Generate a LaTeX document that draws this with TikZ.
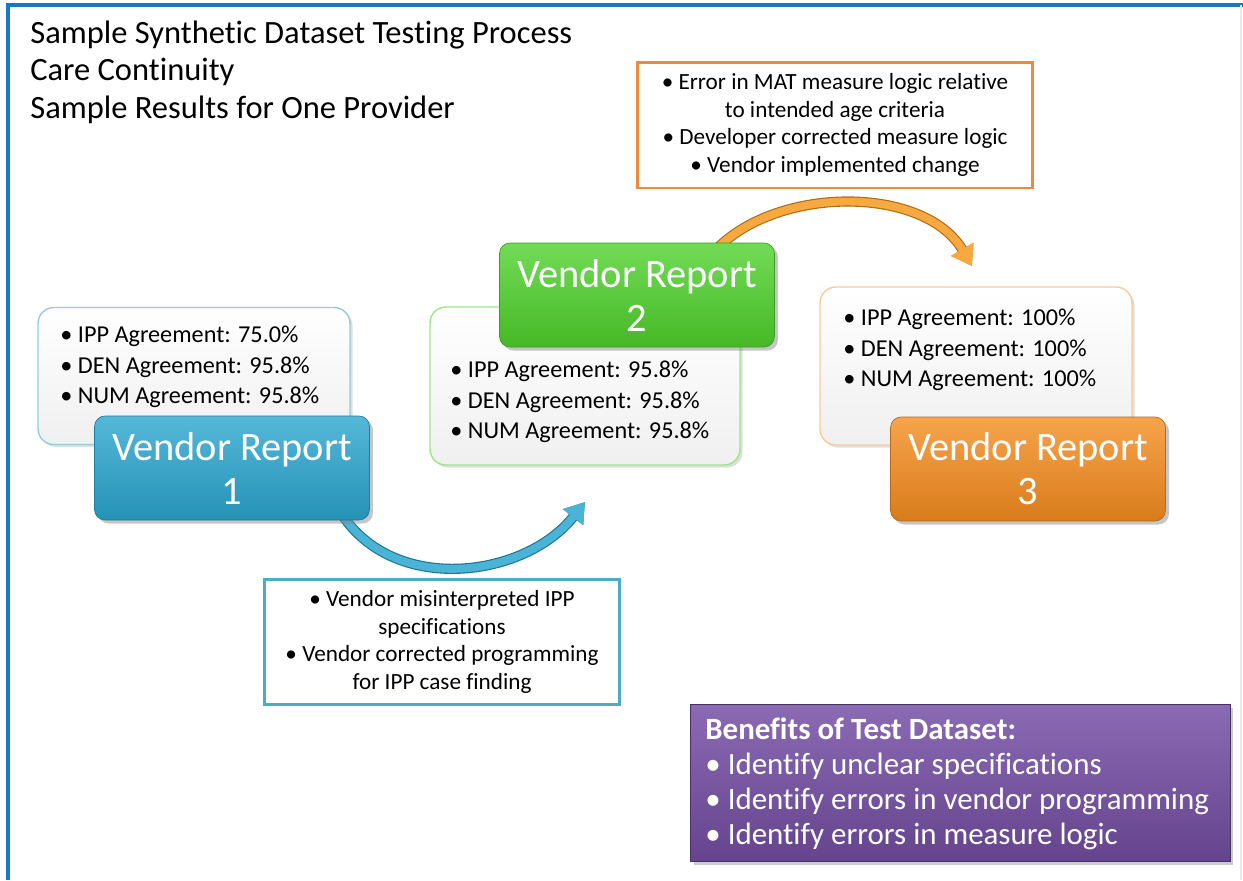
\documentclass[tikz,border=0pt]{standalone}
\usepackage{fontspec}
\setmainfont{Carlito}[Ligatures=NoCommon]
\usepackage{tikz}
\usetikzlibrary{arrows.meta}
\usetikzlibrary{backgrounds}
\usetikzlibrary{shadows,positioning}

\definecolor{frameblue}{HTML}{1A78C2}
\definecolor{vrblue}{HTML}{2AA6CF}
\definecolor{vrgreen}{HTML}{4FD22C}
\definecolor{vrorange}{HTML}{F58D1F}
\definecolor{notecyan}{HTML}{4BACC6}
\definecolor{noteorange}{HTML}{EE8A3C}
\definecolor{benpurple}{HTML}{7650A6}

\tikzset{
  agrbox/.style={draw=#1, line width=0.8pt, rounded corners=9pt,
    top color=white, bottom color=black!6,
    drop shadow={opacity=0.25,shadow xshift=1.5pt,shadow yshift=-1.5pt}},
  agrtext/.style={anchor=west, align=left, inner sep=0pt,
    font=\fontsize{13.8}{17.2}\selectfont},
  report/.style={rounded corners=6pt, text=white, align=center,
    font=\fontsize{23}{25}\selectfont, draw=#1!75!black,
    top color=#1!80!white, bottom color=#1!88!black,
    minimum width=5.5cm, minimum height=2.08cm,
    drop shadow={opacity=0.45,shadow xshift=2pt,shadow yshift=-2pt}},
  notebox/.style={draw=#1, line width=1.7pt, fill=white, align=center,
    font=\fontsize{13.2}{15.6}\selectfont},
  flowarrow/.style={line width=4.5pt, draw=#1!85!white,
    -{Triangle[length=11pt,width=14pt]},
    preaction={draw=#1!70!black, line width=5.8pt}}
}

\begin{document}
\begin{tikzpicture}[x=0.02cm,y=-0.02cm]

  \useasboundingbox (0,0) rectangle (1243,880);

  % frame
  \draw [frameblue, line width=2pt] (8,880) |- (1243,5);
  \draw [black!8, line width=1pt] (1241,5) -- (1241,880);

  % heading
  \node (title) [anchor=west, align=left, inner sep=0pt,
    font=\fontsize{18.5}{21.4}\selectfont] at (30,72)
    {Sample Synthetic Dataset Testing Process\\
     Care Continuity\\
     Sample Results for One Provider};

  % agreement boxes
  \node (agr1) [agrbox=notecyan!60, minimum width=6.24cm, minimum height=2.74cm] at (194,376) {};
  \node (agr2) [agrbox=vrgreen!55, minimum width=6.2cm, minimum height=3.16cm] at (585,386) {};
  \node (agr3) [agrbox=vrorange!45, minimum width=6.24cm, minimum height=3.16cm] at (976,366) {};

  \node (agr1txt) [agrtext] at (60,367)
    {\textbullet\ IPP Agreement: 75.0\%\\
     \textbullet\ DEN Agreement: 95.8\%\\
     \textbullet\ NUM Agreement: 95.8\%};
  \node (agr2txt) [agrtext] at (450,402)
    {\textbullet\ IPP Agreement: 95.8\%\\
     \textbullet\ DEN Agreement: 95.8\%\\
     \textbullet\ NUM Agreement: 95.8\%};
  \node (agr3txt) [agrtext] at (843,350)
    {\textbullet\ IPP Agreement: 100\%\\
     \textbullet\ DEN Agreement: 100\%\\
     \textbullet\ NUM Agreement: 100\%};

  % vendor reports
  \node (vr1) [report=vrblue] at (232,468) {Vendor Report\\1};
  \node (vr2) [report=vrgreen] at (637,295) {Vendor Report\\2};
  \node (vr3) [report=vrorange] at (1028,469) {Vendor Report\\3};

  % notes
  \node (note1) [notebox=notecyan, minimum width=7.1cm, minimum height=2.5cm] at (442,642)
    {\textbullet\ Vendor misinterpreted IPP\\
     specifications\\
     \textbullet\ Vendor corrected programming\\
     for IPP case finding};
  \node (note2) [notebox=noteorange, minimum width=7.92cm, minimum height=2.52cm] at (835,125)
    {\textbullet\ Error in MAT measure logic relative\\
     to intended age criteria\\
     \textbullet\ Developer corrected measure logic\\
     \textbullet\ Vendor implemented change};

  % benefits
  \node (benefits) [draw=benpurple!60!black, top color=benpurple!85!white,
    bottom color=benpurple!85!black, minimum width=10.8cm, minimum height=3.14cm,
    drop shadow={opacity=0.4,shadow xshift=2pt,shadow yshift=-2pt}] at (960,783) {};
  \node (bentxt) [anchor=west, align=left, inner sep=0pt, text=white,
    font=\fontsize{17.6}{20}\selectfont] at (705,784)
    {\textbf{Benefits of Test Dataset:}\\
     \textbullet\ Identify unclear specifications\\
     \textbullet\ Identify errors in vendor programming\\
     \textbullet\ Identify errors in measure logic};

  \coordinate (tip1) at (585,502);
  \coordinate (tip2) at (972,266);

  \begin{scope}[on background layer]
    \draw [flowarrow=vrblue] ([shift={(-28,-6)}]vr1.south east)
      .. controls (395,595) and (525,578) .. (tip1);
    \draw [flowarrow=vrorange!90!yellow] ([shift={(-58,6)}]vr2.north east)
      .. controls (780,185) and (925,186) .. (tip2);
  \end{scope}

\end{tikzpicture}
\end{document}
